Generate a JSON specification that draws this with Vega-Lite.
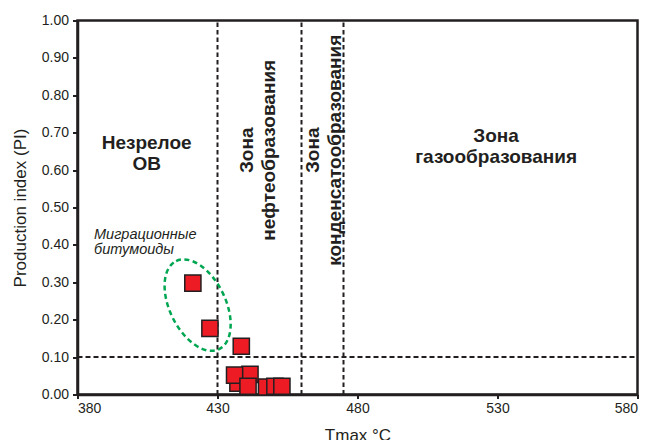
{
  "$schema": "https://vega.github.io/schema/vega-lite/v6.json",
  "width": 560,
  "height": 374,
  "autosize": {"type": "none"},
  "padding": {"left": 77.5, "top": 20.5, "right": 13.5, "bottom": 45.5},
  "background": "white",
  "config": {
    "view": {"stroke": "#231f20", "strokeWidth": 2.5},
    "axis": {
      "domainColor": "#231f20", "domainWidth": 2.5,
      "tickColor": "#231f20", "tickWidth": 2, "tickSize": 5,
      "labelFont": "Liberation Sans", "labelFontSize": 14, "labelColor": "#231f20",
      "titleFont": "Liberation Sans", "titleFontSize": 17, "titleFontWeight": "normal", "titleColor": "#231f20",
      "grid": false
    },
    "text": {"font": "Liberation Sans", "color": "#231f20"}
  },
  "datasets": {
    "samples": [
      {"x": 437.3, "y": 0.030},
      {"x": 441.6, "y": 0.054},
      {"x": 436.1, "y": 0.052},
      {"x": 440.9, "y": 0.022},
      {"x": 447.5, "y": 0.020},
      {"x": 450.5, "y": 0.022},
      {"x": 453.0, "y": 0.022},
      {"x": 438.5, "y": 0.129},
      {"x": 427.3, "y": 0.177},
      {"x": 421.2, "y": 0.298}
    ],
    "vlines": [
      {"x": 430, "y": 0, "y2": 1},
      {"x": 460, "y": 0, "y2": 1},
      {"x": 475, "y": 0, "y2": 1}
    ],
    "hlines": [{"x": 380, "x2": 580, "y": 0.1}],
    "ellipse": [{"x": 422.9, "y": 0.239}],
    "labels": [
      {"x": 404.7, "y": 0.656, "label": "Незрелое\nОВ"},
      {"x": 529.5, "y": 0.675, "label": "Зона\nгазообразования"}
    ],
    "migr": [{"x": 385.9, "y": 0.415, "label": "Миграционные\nбитумоиды"}],
    "zones": [
      {"x": 442.8, "y": 0.653, "label": "Зона\nнефтеобразования"},
      {"x": 466.4, "y": 0.653, "label": "Зона\nконденсатообразования"}
    ]
  },
  "encoding": {
    "x": {
      "field": "x", "type": "quantitative",
      "scale": {"domain": [380, 580], "nice": false, "zero": false},
      "axis": {"values": [380, 430, 480, 530, 580], "title": "Tmax °C", "titlePadding": 12, "labelPadding": 3, "tickSize": 4}
    },
    "y": {
      "field": "y", "type": "quantitative",
      "scale": {"domain": [0, 1], "nice": false},
      "axis": {"values": [0, 0.1, 0.2, 0.3, 0.4, 0.5, 0.6, 0.7, 0.8, 0.9, 1.0], "format": ".2f", "title": "Production index (PI)", "titlePadding": 12, "labelPadding": 4}
    }
  },
  "layer": [
    {
      "data": {"name": "vlines"},
      "mark": {"type": "rule", "stroke": "#231f20", "strokeWidth": 2, "strokeDash": [4.5, 3]},
      "encoding": {"y2": {"field": "y2"}}
    },
    {
      "data": {"name": "hlines"},
      "mark": {"type": "rule", "stroke": "#231f20", "strokeWidth": 2, "strokeDash": [5, 3]},
      "encoding": {"x2": {"field": "x2"}}
    },
    {
      "data": {"name": "ellipse"},
      "mark": {
        "type": "point",
        "shape": "M 0 -1 C 0.3148 -1 0.57 -0.5523 0.57 0 C 0.57 0.5523 0.3148 1 0 1 C -0.3148 1 -0.57 0.5523 -0.57 0 C -0.57 -0.5523 -0.3148 -1 0 -1 Z",
        "size": 9604, "angle": 334, "filled": false, "color": "#00a651", "opacity": 1,
        "strokeWidth": 2.5, "strokeDash": [5, 3.5]
      }
    },
    {
      "data": {"name": "samples"},
      "mark": {"type": "point", "shape": "square", "size": 262, "filled": true, "fill": "#ed1c24", "stroke": "#231f20", "strokeWidth": 1.5, "opacity": 1}
    },
    {
      "data": {"name": "labels"},
      "mark": {"type": "text", "fontSize": 19, "fontWeight": "bold", "align": "center", "baseline": "alphabetic", "lineBreak": "\n", "lineHeight": 21},
      "encoding": {"text": {"field": "label"}}
    },
    {
      "data": {"name": "migr"},
      "mark": {"type": "text", "fontSize": 14.5, "fontStyle": "italic", "align": "left", "baseline": "alphabetic", "lineBreak": "\n", "lineHeight": 15},
      "encoding": {"text": {"field": "label"}}
    },
    {
      "data": {"name": "zones"},
      "mark": {"type": "text", "fontSize": 19, "fontWeight": "bold", "angle": 270, "align": "center", "baseline": "alphabetic", "lineBreak": "\n", "lineHeight": 22},
      "encoding": {"text": {"field": "label"}}
    }
  ]
}
